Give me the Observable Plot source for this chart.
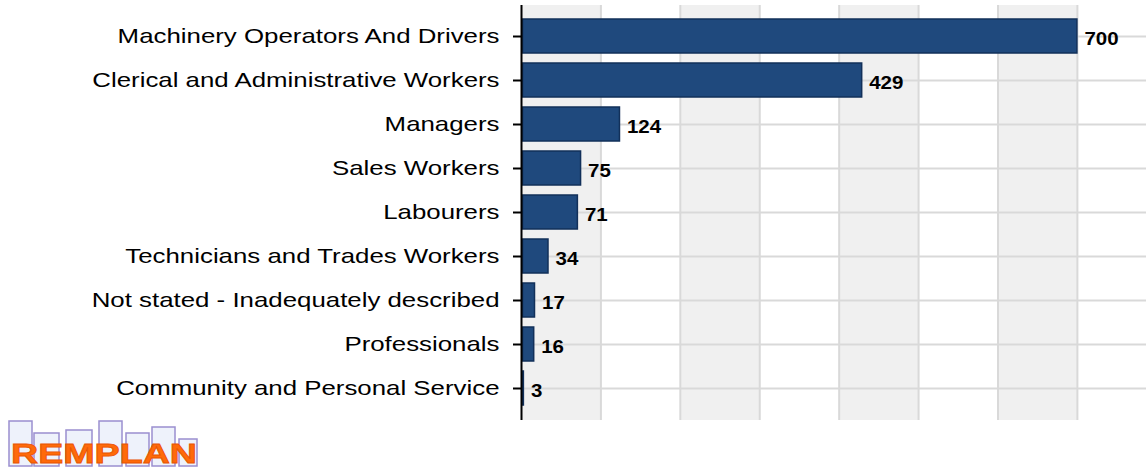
<!DOCTYPE html>
<html><head><meta charset="utf-8">
<script src="https://cdn.jsdelivr.net/npm/d3@7"></script>
<script src="https://cdn.jsdelivr.net/npm/@observablehq/plot@0.6"></script>
<style>
body{margin:0;background:#fff;font-family:"Liberation Sans",Arial,sans-serif}
#logo{height:48px;margin-left:8px}
</style>
</head><body><div id="chart"></div><div id="logo"></div>
<script>
const categories = [
  "Machinery Operators And Drivers",
  "Clerical and Administrative Workers",
  "Managers",
  "Sales Workers",
  "Labourers",
  "Technicians and Trades Workers",
  "Not stated - Inadequately described",
  "Professionals",
  "Community and Personal Service"
];
const values = [700, 429, 124, 75, 71, 34, 17, 16, 3];
const gridTicks = [100, 200, 300, 400, 500, 600, 700];
const bandStarts = [0, 200, 400, 600];
const bandWidth = 100;

const data = categories.map((c, i) => ({category: c, value: values[i]}));
const bands = bandStarts.map(s => ({x1: s, x2: s + bandWidth}));

const chart = Plot.plot({
  width: 1146,
  height: 420,
  marginLeft: 521,
  marginRight: 0,
  marginTop: 5,
  marginBottom: 0,
  style: {fontFamily: "'Liberation Sans', Arial, sans-serif", background: "#fff"},
  x: {domain: [0, 787], axis: null},
  y: {domain: categories, paddingInner: 0.22, paddingOuter: 0.24, axis: null},
  marks: [
    Plot.rectX(bands, {x1: "x1", x2: "x2", fill: "#f0f0f0"}),
    Plot.ruleX(gridTicks, {stroke: "#d9d9d9", strokeWidth: 2}),
    Plot.ruleY(categories, {y: d => d, stroke: "#d9d9d9", strokeWidth: 2}),
    Plot.barX(data, {y: "category", x: "value", fill: "#1f497d", stroke: "#12305a", strokeWidth: 1.5, insetLeft: 1.5}),
    Plot.text(data, {y: "category", x: "value", text: d => String(d.value), dx: 7, dy: 2, textAnchor: "start", fontWeight: "bold", fontSize: 19, fill: "#000", className: "vlab"}),
    Plot.ruleX([0], {stroke: "#000", strokeWidth: 2}),
    Plot.axisY({tickSize: 8, tickPadding: 14, fontSize: 21, stroke: "#000", strokeWidth: 2, fill: "#000", label: null, className: "ylab"})
  ]
});
document.getElementById("chart").appendChild(chart);

// widen glyphs to match the reference's horizontally stretched text
function stretch(sel, k) {
  chart.querySelectorAll(sel).forEach(t => {
    const len = t.getComputedTextLength();
    t.setAttribute("textLength", (len * k).toFixed(1));
    t.setAttribute("lengthAdjust", "spacingAndGlyphs");
  });
}
stretch(".ylab text", 1.23);
stretch(".vlab text", 1.08);

// REMPLAN logo (decorative)
const logo = d3.select("#logo").append("svg").attr("width", 200).attr("height", 48);
const blds = [[0,0,25],[25,12,27],[57,9,28],[90,0,25],[117,12,25],[143,6,25],[170,18,20]];
blds.forEach(([x,y,w]) => {
  logo.append("rect").attr("x", x + 1).attr("y", y + 1).attr("width", w - 2).attr("height", 45 - y)
    .attr("fill", "#eef2fb").attr("stroke", "#9a8fd0").attr("stroke-width", 1.5);
});
logo.append("text").attr("x", 3).attr("y", 43).attr("textLength", 186).attr("lengthAdjust", "spacingAndGlyphs")
  .attr("font-family", "'Liberation Sans', Arial, sans-serif").attr("font-weight", "bold").attr("font-size", 28)
  .attr("fill", "#ff6a0a").attr("stroke", "#e85500").attr("stroke-width", 0.8).text("REMPLAN");
</script>
</body></html>
